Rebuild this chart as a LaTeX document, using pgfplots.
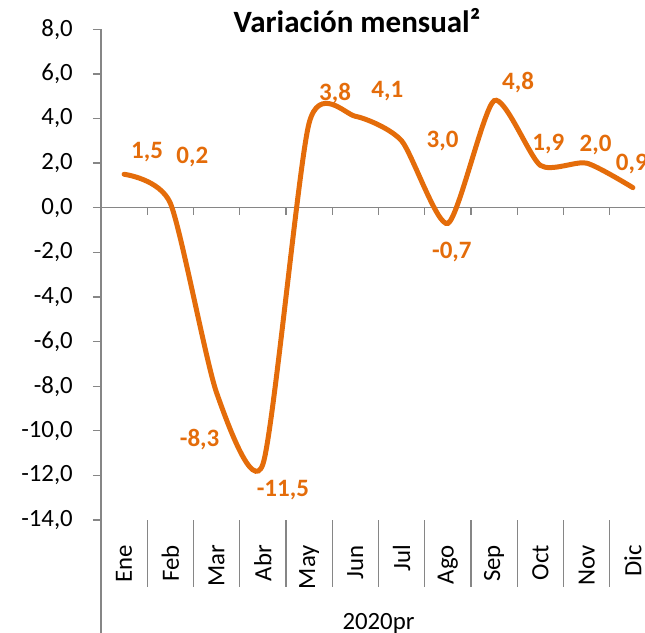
\documentclass[border=0pt]{standalone}
\usepackage{pgfplots}
\pgfplotsset{compat=1.18}
\usepackage{fontspec}
\setmainfont{Carlito}
\definecolor{lineor}{RGB}{228,108,10}
\definecolor{axgray}{RGB}{134,134,134}
\begin{document}
\begin{tikzpicture}
\begin{axis}[
  at={(0,0)}, anchor=south west,
  scale only axis, width=555bp, height=490.7bp,
  xmin=-0.5, xmax=11.5, ymin=-14, ymax=8,
  clip=false,
  axis lines*=left,
  x axis line style={draw=none},
  y axis line style={axgray, line width=1.3bp},
  xtick={0,...,11},
  xticklabels={Ene,Feb,Mar,Abr,May,Jun,Jul,Ago,Sep,Oct,Nov,Dic},
  xtick style={draw=none},
  xticklabel style={rotate=90, anchor=east, inner sep=0pt, font=\fontsize{24.8bp}{30bp}\selectfont},
  xticklabel shift=17bp,
  ytick={-14,-12,...,8},
  tick align=outside,
  major tick length=8bp,
  ytick style={axgray, line width=1.3bp},
  yticklabel style={anchor=east, inner sep=0pt, font=\fontsize{24.8bp}{30bp}\selectfont},
  yticklabel shift=20bp,
  yticklabel={\pgfmathprintnumber[fixed,fixed zerofill,precision=1,use comma,assume math mode=true]{\tick}},
]
% zero line and ticks
\draw[axgray, line width=1.3bp] (axis cs:-0.5,0) -- (axis cs:11.5,0);
\pgfplotsinvokeforeach{0.5,1.5,2.5,3.5,4.5,5.5,6.5,7.5,8.5,9.5,10.5,11.5}{
  \draw[axgray, line width=1.3bp] (axis cs:#1,0) -- ([yshift=-7bp]axis cs:#1,0);
  \draw[axgray, line width=1.3bp] (axis cs:#1,-14) -- ([yshift=-67bp]axis cs:#1,-14);
}
\draw[axgray, line width=1.3bp] (axis cs:-0.5,-14) -- ([yshift=-113bp]axis cs:-0.5,-14);

\addplot[lineor, line width=5bp, smooth, tension=0.4, line cap=round] table[x=x,y=y] {
x y
0 1.5
1 0.2
2 -8.3
3 -11.5
4 3.8
5 4.1
6 3.0
7 -0.7
8 4.8
9 1.9
10 2.0
11 0.9
};

\addplot[draw=none, mark=none,
  point meta=y,
  visualization depends on={\thisrow{dx} \as \dx},
  visualization depends on={\thisrow{dy} \as \dy},
  nodes near coords={\pgfmathprintnumber[fixed,fixed zerofill,precision=1,use comma,assume math mode=true]{\pgfplotspointmeta}},
  nodes near coords style={anchor=center, inner sep=0pt, text=lineor, font=\fontsize{25bp}{30bp}\selectfont\bfseries, xshift={\dx*1bp}, yshift={\dy*1bp}},
] table[x=x,y=y] {
x y dx dy
0 1.5 23 22
1 0.2 22 46
2 -8.3 -17 -47
3 -11.5 20 -26
4 3.8 26 29
5 4.1 32 25
6 3.0 41 0
7 -0.7 4 -29
8 4.8 24 18
9 1.9 8 21
10 2.0 9 18
11 0.9 -1 24
};

\node[anchor=base, font=\fontsize{24.8bp}{30bp}\selectfont] at (axis cs:5.5,-14) [yshift=-109bp] {2020pr};
\end{axis}
\node[anchor=base, font=\fontsize{31bp}{36bp}\selectfont\bfseries] at (256bp,487bp) {Variación mensual²};
\pgfresetboundingbox
\useasboundingbox (-101bp,-113bp) rectangle (544bp,520bp);
\end{tikzpicture}
\end{document}
